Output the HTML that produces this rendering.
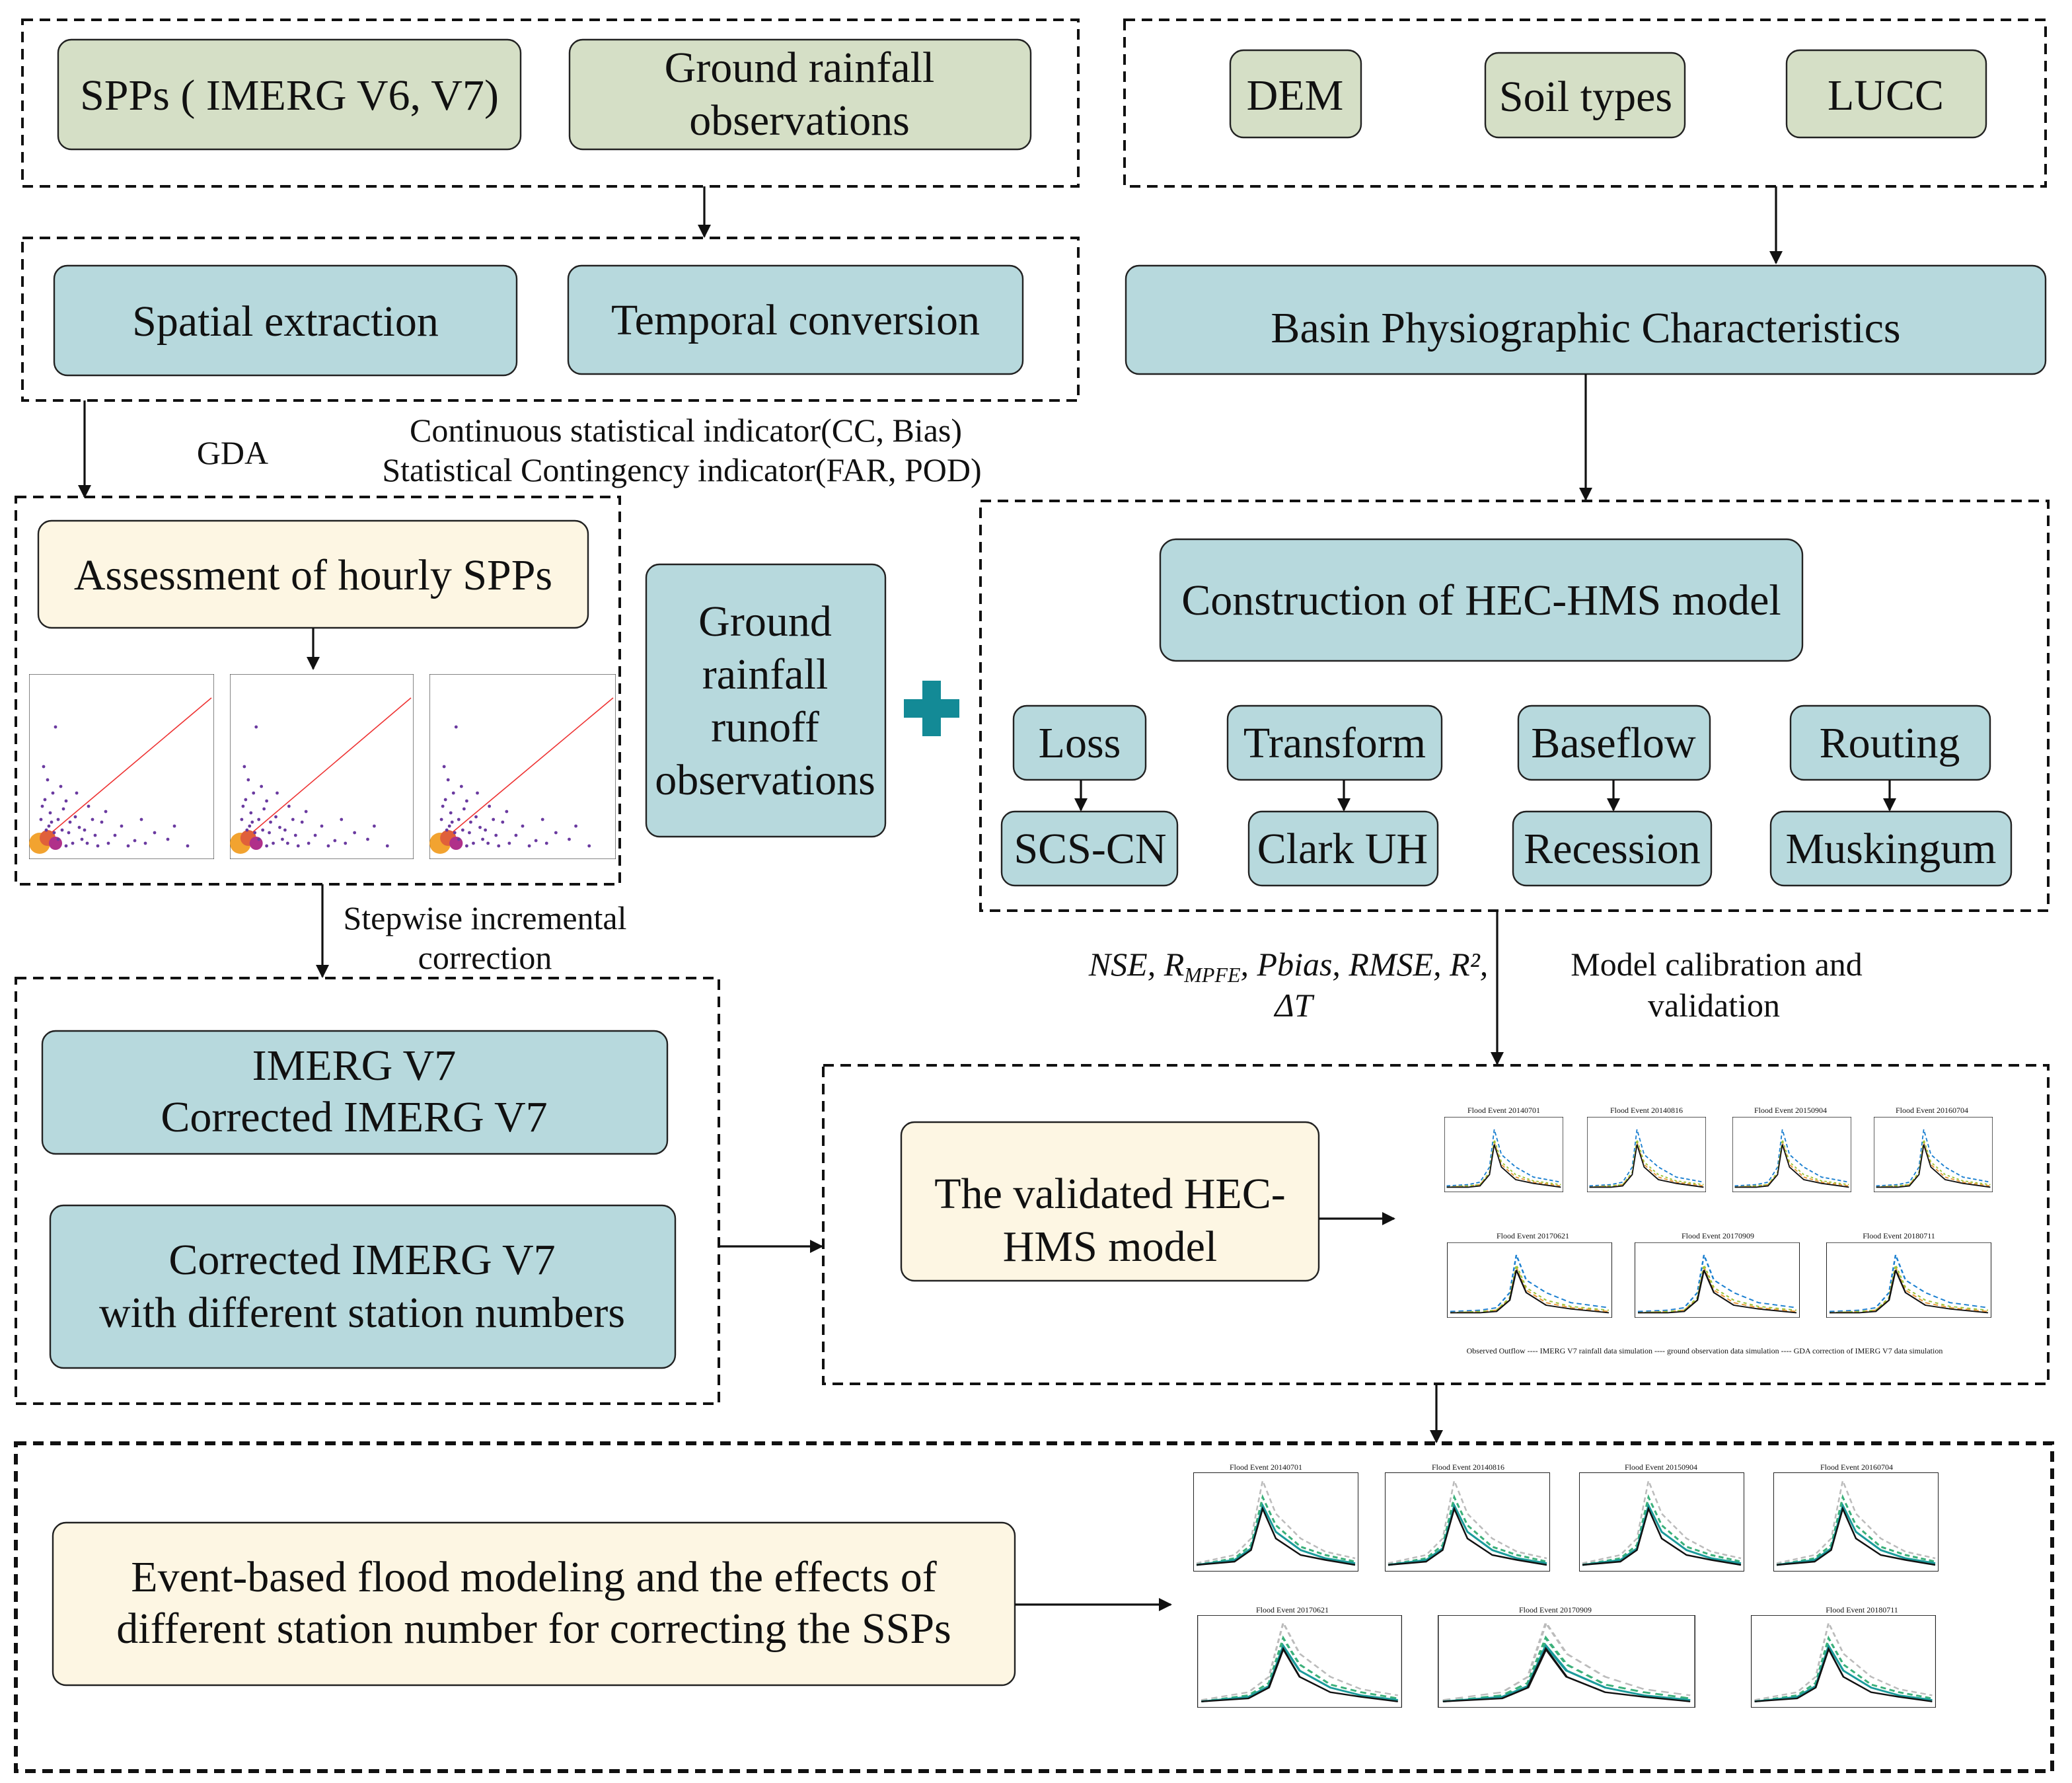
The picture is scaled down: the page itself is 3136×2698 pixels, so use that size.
<!DOCTYPE html>
<html><head><meta charset="utf-8"><style>
html,body{margin:0;padding:0;background:#fff;}
svg{display:block;}
text{font-family:"Liberation Serif",serif;fill:#111;}
</style></head><body>
<svg width="3136" height="2698" viewBox="0 0 1568 1349" xmlns="http://www.w3.org/2000/svg">
<defs>
<marker id="ar" markerWidth="10" markerHeight="10" refX="9" refY="5" orient="auto" markerUnits="userSpaceOnUse"><path d="M0,0 L10,5 L0,10 z" fill="#111"/></marker>
<symbol id="hyd" viewBox="0 0 100 60" preserveAspectRatio="none">
<rect x="0" y="0" width="100" height="60" fill="#fff" stroke="#222" stroke-width="0.8"/>
<path d="M2,55 L20,54 L30,52 L38,40 L42,10 L48,30 L60,40 L75,48 L98,52" fill="none" stroke="#1a7fd0" stroke-width="1" stroke-dasharray="3,2"/>
<path d="M2,56 L20,55 L30,54 L38,45 L42,20 L48,38 L60,48 L75,52 L98,55" fill="none" stroke="#e89a3c" stroke-width="1" stroke-dasharray="3,2"/>
<path d="M2,56 L20,55 L30,54 L38,44 L42,18 L48,36 L60,46 L75,51 L98,54" fill="none" stroke="#9cc43a" stroke-width="1" stroke-dasharray="2,2"/>
<path d="M2,56 L20,56 L30,55 L38,46 L42,22 L48,40 L60,50 L75,53 L98,56" fill="none" stroke="#111" stroke-width="1"/>
</symbol>
<symbol id="hyd2" viewBox="0 0 100 60" preserveAspectRatio="none">
<rect x="0" y="0" width="100" height="60" fill="#fff" stroke="#222" stroke-width="0.8"/>
<path d="M2,55 L25,50 L35,40 L42,5 L50,25 L65,40 L80,48 L98,52" fill="none" stroke="#bbb" stroke-width="1" stroke-dasharray="3,2"/>
<path d="M2,56 L25,52 L35,44 L42,15 L50,32 L65,45 L80,50 L98,54" fill="none" stroke="#3bb07a" stroke-width="1.2" stroke-dasharray="3,2"/>
<path d="M2,56 L25,53 L35,46 L42,20 L50,36 L65,47 L80,52 L98,55" fill="none" stroke="#1a9a9a" stroke-width="1.2"/>
<path d="M2,56 L25,54 L35,47 L42,22 L50,40 L65,50 L80,53 L98,56" fill="none" stroke="#111" stroke-width="1"/>
</symbol>
<symbol id="sc" viewBox="0 0 140 140" preserveAspectRatio="none">
<rect x="0" y="0" width="140" height="140" fill="#fff" stroke="#333" stroke-width="0.6"/>
<line x1="5" y1="130" x2="138" y2="18" stroke="#e33" stroke-width="0.8"/>
<g fill="#6a3aa0">
<circle cx="8" cy="128" r="8" fill="#f2a330"/><circle cx="14" cy="124" r="6" fill="#e0603a"/><circle cx="20" cy="128" r="5" fill="#b0308a"/>
<circle cx="15" cy="115" r="1.2"/><circle cx="22" cy="110" r="1.2"/><circle cx="10" cy="100" r="1.2"/><circle cx="30" cy="120" r="1.2"/><circle cx="40" cy="125" r="1.2"/><circle cx="18" cy="90" r="1.2"/><circle cx="25" cy="118" r="1.2"/><circle cx="50" cy="122" r="1.2"/><circle cx="60" cy="128" r="1.2"/><circle cx="35" cy="108" r="1.2"/><circle cx="14" cy="80" r="1.2"/><circle cx="70" cy="115" r="1.2"/><circle cx="45" cy="100" r="1.2"/><circle cx="20" cy="40" r="1.2"/><circle cx="80" cy="126" r="1.2"/><circle cx="28" cy="96" r="1.2"/><circle cx="55" cy="112" r="1.2"/><circle cx="9" cy="110" r="1.2"/><circle cx="95" cy="120" r="1.2"/><circle cx="33" cy="128" r="1.2"/><circle cx="16" cy="105" r="1.2"/>
<circle cx="12" cy="95" r="1.2"/><circle cx="26" cy="102" r="1.2"/><circle cx="38" cy="116" r="1.2"/><circle cx="44" cy="128" r="1.2"/><circle cx="19" cy="120" r="1.2"/><circle cx="31" cy="112" r="1.2"/><circle cx="65" cy="122" r="1.2"/><circle cx="75" cy="130" r="1.2"/><circle cx="88" cy="128" r="1.2"/><circle cx="105" cy="125" r="1.2"/><circle cx="120" cy="130" r="1.2"/><circle cx="24" cy="85" r="1.2"/><circle cx="11" cy="70" r="1.2"/><circle cx="36" cy="90" r="1.2"/><circle cx="48" cy="110" r="1.2"/><circle cx="58" cy="104" r="1.2"/><circle cx="22" cy="125" r="1.2"/><circle cx="28" cy="130" r="1.2"/><circle cx="42" cy="118" r="1.2"/><circle cx="52" cy="130" r="1.2"/><circle cx="17" cy="112" r="1.2"/><circle cx="13" cy="118" r="1.2"/><circle cx="85" cy="110" r="1.2"/><circle cx="110" cy="115" r="1.2"/>
</g></symbol>
</defs>
<g fill="none" stroke="#111" stroke-width="2" stroke-dasharray="8,5">
<rect x="17" y="15" width="799" height="126"/>
<rect x="851" y="15" width="697" height="126"/>
<rect x="17" y="180" width="799" height="123"/>
<rect x="12" y="376" width="457" height="293"/>
<rect x="742" y="379" width="808" height="310"/>
<rect x="12" y="740" width="532" height="322"/>
<rect x="623" y="806" width="927" height="241"/>
<rect x="12" y="1092" width="1541" height="248" stroke-width="3"/>
</g>
<g stroke="#222" stroke-width="1.2">
<rect x="44" y="30" width="350" height="83" rx="10" fill="#d5dfc6"/>
<rect x="431" y="30" width="349" height="83" rx="10" fill="#d5dfc6"/>
<rect x="931" y="38" width="99" height="66" rx="10" fill="#d5dfc6"/>
<rect x="1124" y="40" width="151" height="64" rx="10" fill="#d5dfc6"/>
<rect x="1352" y="38" width="151" height="66" rx="10" fill="#d5dfc6"/>
<rect x="41" y="201" width="350" height="83" rx="10" fill="#b7d9dd"/>
<rect x="430" y="201" width="344" height="82" rx="10" fill="#b7d9dd"/>
<rect x="852" y="201" width="696" height="82" rx="10" fill="#b7d9dd"/>
<rect x="29" y="394" width="416" height="81" rx="10" fill="#fdf6e3"/>
<rect x="489" y="427" width="181" height="206" rx="10" fill="#b7d9dd"/>
<rect x="878" y="408" width="486" height="92" rx="12" fill="#b7d9dd"/>
<rect x="767" y="534" width="100" height="56" rx="10" fill="#b7d9dd"/>
<rect x="929" y="534" width="162" height="56" rx="10" fill="#b7d9dd"/>
<rect x="1149" y="534" width="145" height="56" rx="10" fill="#b7d9dd"/>
<rect x="1355" y="534" width="151" height="56" rx="10" fill="#b7d9dd"/>
<rect x="758" y="614" width="133" height="56" rx="10" fill="#b7d9dd"/>
<rect x="945" y="614" width="143" height="56" rx="10" fill="#b7d9dd"/>
<rect x="1145" y="614" width="150" height="56" rx="10" fill="#b7d9dd"/>
<rect x="1340" y="614" width="182" height="56" rx="10" fill="#b7d9dd"/>
<rect x="32" y="780" width="473" height="93" rx="10" fill="#b7d9dd"/>
<rect x="38" y="912" width="473" height="123" rx="10" fill="#b7d9dd"/>
<rect x="682" y="849" width="316" height="120" rx="10" fill="#fdf6e3"/>
<rect x="40" y="1152" width="728" height="123" rx="10" fill="#fdf6e3"/>
</g>
<g stroke="#111" stroke-width="1.6" marker-end="url(#ar)">
<line x1="533" y1="141" x2="533" y2="179"/>
<line x1="1344" y1="141" x2="1344" y2="199"/>
<line x1="64" y1="303" x2="64" y2="376"/>
<line x1="1200" y1="283" x2="1200" y2="378"/>
<line x1="237" y1="475" x2="237" y2="506"/>
<line x1="244" y1="669" x2="244" y2="739"/>
<line x1="1133" y1="689" x2="1133" y2="805"/>
<line x1="544" y1="943" x2="622" y2="943"/>
<line x1="998" y1="922" x2="1055" y2="922"/>
<line x1="1087" y1="1047" x2="1087" y2="1091"/>
<line x1="768" y1="1214" x2="886" y2="1214"/>
<line x1="818" y1="590" x2="818" y2="613"/>
<line x1="1017" y1="590" x2="1017" y2="613"/>
<line x1="1221" y1="590" x2="1221" y2="613"/>
<line x1="1430" y1="590" x2="1430" y2="613"/>
</g>
<path d="M698,515 h14 v14 h14 v14 h-14 v14 h-14 v-14 h-14 v-14 h14 z" fill="#138a96"/>
<g font-size="33" text-anchor="middle">
<text x="219" y="83">SPPs ( IMERG V6, V7)</text>
<text x="605" y="62">Ground rainfall</text>
<text x="605" y="102">observations</text>
<text x="980" y="83">DEM</text>
<text x="1200" y="84">Soil types</text>
<text x="1427" y="83">LUCC</text>
<text x="216" y="254">Spatial extraction</text>
<text x="602" y="253">Temporal conversion</text>
<text x="1200" y="259">Basin Physiographic Characteristics</text>
<text x="237" y="446">Assessment of hourly SPPs</text>
<text x="579" y="481">Ground</text>
<text x="579" y="521">rainfall</text>
<text x="579" y="561">runoff</text>
<text x="579" y="601">observations</text>
<text x="1121" y="465">Construction of HEC-HMS model</text>
<text x="817" y="573">Loss</text>
<text x="1010" y="573">Transform</text>
<text x="1221" y="573">Baseflow</text>
<text x="1430" y="573">Routing</text>
<text x="825" y="653">SCS-CN</text>
<text x="1016" y="653">Clark UH</text>
<text x="1220" y="653">Recession</text>
<text x="1431" y="653">Muskingum</text>
<text x="268" y="817">IMERG V7</text>
<text x="268" y="856">Corrected IMERG V7</text>
<text x="274" y="964">Corrected IMERG V7</text>
<text x="274" y="1004">with different station numbers</text>
<text x="840" y="914">The validated HEC-</text>
<text x="840" y="954">HMS model</text>
<text x="404" y="1204">Event-based flood modeling and the effects of</text>
<text x="404" y="1243">different station number for correcting the SSPs</text>
</g>
<g font-size="25" text-anchor="middle">
<text x="176" y="351">GDA</text>
<text x="519" y="334">Continuous statistical indicator(CC, Bias)</text>
<text x="516" y="364">Statistical Contingency indicator(FAR, POD)</text>
<text x="367" y="703">Stepwise incremental</text>
<text x="367" y="733">correction</text>
<text x="975" y="738" font-style="italic">NSE, R<tspan font-size="16" dy="5">MPFE</tspan><tspan dy="-5">, Pbias, RMSE, R², </tspan></text>
<text x="979" y="769" font-style="italic">ΔT</text>
<text x="1299" y="738">Model calibration and</text>
<text x="1297" y="769">validation</text>
</g>
<use href="#sc" x="22" y="510" width="140" height="140"/>
<use href="#sc" x="174" y="510" width="139" height="140"/>
<use href="#sc" x="325" y="510" width="141" height="140"/>
<g font-size="6" text-anchor="middle">
<text x="1138" y="842">Flood Event 20140701</text><text x="1246" y="842">Flood Event 20140816</text><text x="1355" y="842">Flood Event 20150904</text><text x="1462" y="842">Flood Event 20160704</text>
<text x="1160" y="937">Flood Event 20170621</text><text x="1300" y="937">Flood Event 20170909</text><text x="1437" y="937">Flood Event 20180711</text>
<text x="1290" y="1024">Observed Outflow  ----  IMERG V7 rainfall data simulation  ----  ground observation data simulation  ----  GDA correction of IMERG V7 data simulation</text>
<text x="958" y="1112">Flood Event 20140701</text><text x="1111" y="1112">Flood Event 20140816</text><text x="1257" y="1112">Flood Event 20150904</text><text x="1405" y="1112">Flood Event 20160704</text>
<text x="978" y="1220">Flood Event 20170621</text><text x="1177" y="1220">Flood Event 20170909</text><text x="1409" y="1220">Flood Event 20180711</text>
</g>
<use href="#hyd" x="1093" y="845" width="90" height="57"/>
<use href="#hyd" x="1201" y="845" width="90" height="57"/>
<use href="#hyd" x="1311" y="845" width="90" height="57"/>
<use href="#hyd" x="1418" y="845" width="90" height="57"/>
<use href="#hyd" x="1095" y="940" width="125" height="57"/>
<use href="#hyd" x="1237" y="940" width="125" height="57"/>
<use href="#hyd" x="1382" y="940" width="125" height="57"/>
<use href="#hyd2" x="903" y="1114" width="125" height="75"/>
<use href="#hyd2" x="1048" y="1114" width="125" height="75"/>
<use href="#hyd2" x="1195" y="1114" width="125" height="75"/>
<use href="#hyd2" x="1342" y="1114" width="125" height="75"/>
<use href="#hyd2" x="906" y="1222" width="155" height="70"/>
<use href="#hyd2" x="1088" y="1222" width="195" height="70"/>
<use href="#hyd2" x="1325" y="1222" width="140" height="70"/>
</svg>
</body></html>
